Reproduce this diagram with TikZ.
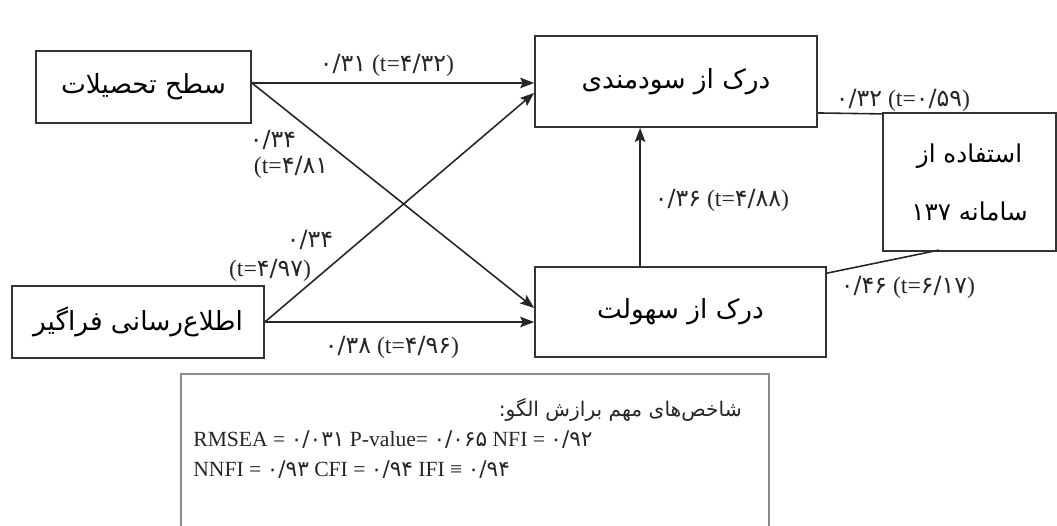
\documentclass[tikz,border=0pt]{standalone}
\usepackage{fontspec}
\setmainfont{Liberation Serif}
\newfontfamily\fa[Script=Arabic]{DejaVu Sans}
\TeXXeTstate=1
\usetikzlibrary{arrows.meta,calc}
\newcommand{\coefl}[2]{{\fa #1} (t={\fa #2})}
\begin{document}
\begin{tikzpicture}[x=0.02cm,y=-0.02cm,
  box/.style={draw=black!80,line width=1pt,fill=none,inner sep=0pt,font=\fa\fontsize{15}{18}\selectfont},
  arr/.style={draw=black!85,line width=0.9pt,-{Stealth[length=8pt,width=6pt,inset=1.5pt]}},
  lnk/.style={draw=black!85,line width=0.9pt},
  lab/.style={inner sep=0pt,font=\fontsize{13.5}{16}\selectfont,text=black!85},
  fit/.style={inner sep=0pt,font=\fontsize{12.3}{15}\selectfont,text=black!85}]
\useasboundingbox (0,0) rectangle (1057,525);
% boxes
\node[box,minimum width=4.3cm,minimum height=1.44cm] (A) at (143.5,87) {\beginR سطح تحصیلات\endR};
\node[box,minimum width=5.64cm,minimum height=1.82cm] (B) at (676,81.5) {\beginR درک از سودمندی\endR};
\node[box,minimum width=3.46cm,minimum height=2.76cm,align=center,font=\fa\fontsize{14}{17}\selectfont] (C) at (969.5,182) {\beginR استفاده از\endR\\[16pt]\beginR سامانه ۱۳۷\endR};
\node[box,minimum width=5.82cm,minimum height=1.8cm] (D) at (680.5,312) {\beginR درک از سهولت\endR};
\node[box,minimum width=5.04cm,minimum height=1.44cm] (E) at (138,322) {\beginR اطلاع‌رسانی فراگیر\endR};
\node[draw=black!45,line width=1pt,minimum width=11.76cm,minimum height=3.14cm,anchor=north west,inner sep=0pt] (F) at (180,373) {};
% connectors
\draw[arr] ([yshift=2.3pt]A.east) -- ([yshift=2.3pt]A.east -| B.west);
\draw[arr] ([yshift=2.3pt]A.east) -- ([yshift=2.3pt]D.west);
\draw[arr] (E.east) -- ([yshift=-6.5pt]B.west);
\draw[arr] (E.east) -- (E.east -| D.west);
\draw[arr] ([xshift=-23pt]D.north) -- ([xshift=-23pt]D.north |- B.south);
\draw[lnk] ([yshift=-17.9pt]B.east) -- ([yshift=-1pt]C.north west);
\draw[lnk] ([yshift=-4pt]D.north east) -- ([xshift=32.3pt,yshift=1pt]C.south west);
% labels
\node[lab] (l1) at (387,65) {\coefl{۰/۳۱}{۴/۳۲}};
\node[lab] (l2a) at (273,140) {{\fa ۰/۳۴}};
\node[lab] (l2b) at (291,167) {(t={\fa ۴/۸۱}};
\node[lab] (l3a) at (310,240) {{\fa ۰/۳۴}};
\node[lab] (l3b) at (270,270) {(t={\fa ۴/۹۷})};
\node[lab] (l4) at (392,347) {\coefl{۰/۳۸}{۴/۹۶}};
\node[lab] (l5) at (722,200) {\coefl{۰/۳۶}{۴/۸۸}};
\node[lab] (l6) at (903,100) {\coefl{۰/۳۲}{۰/۵۹}};
\node[lab] (l7) at (908,287) {\coefl{۰/۴۶}{۶/۱۷}};
% fit indices
\node[fit,anchor=east,font=\fa\fontsize{11.5}{14}\selectfont] (ft) at (742,410) {\beginR شاخص‌های مهم برازش الگو:\endR};
\node[fit,anchor=west] (f1) at (193,440) {RMSEA = {\fa ۰/۰۳۱} P-value= {\fa ۰/۰۶۵} NFI = {\fa ۰/۹۲}};
\node[fit,anchor=west] (f2) at (193,470) {NNFI = {\fa ۰/۹۳} CFI = {\fa ۰/۹۴} IFI ≡ {\fa ۰/۹۴}};
\end{tikzpicture}
\end{document}
